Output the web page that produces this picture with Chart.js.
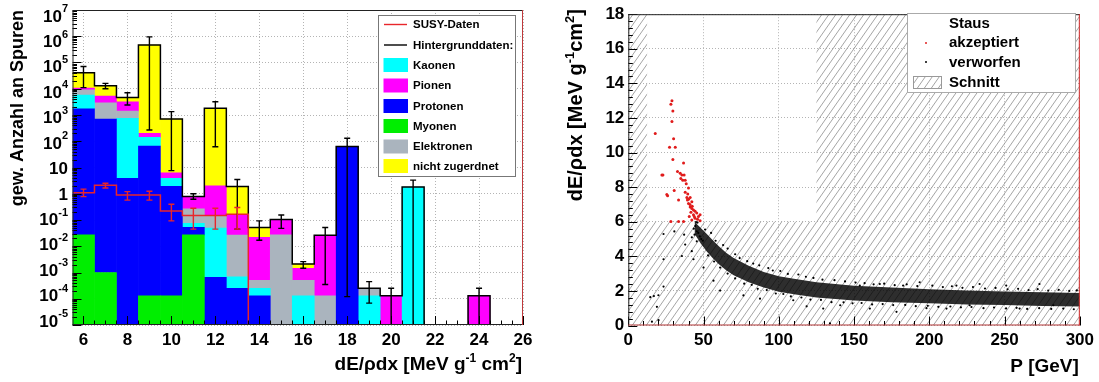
<!DOCTYPE html>
<html>
<head>
<meta charset="utf-8">
<script src="https://cdn.jsdelivr.net/npm/chart.js@4.4.1/dist/chart.umd.min.js"></script>
<style>
  body { margin: 0; background: #fff; width: 1099px; height: 382px; overflow: hidden; position: relative; }
  #left { position: absolute; left: 0; top: 0; }
  #right { position: absolute; left: 545px; top: 0; }
</style>
</head>
<body>
<canvas id="left" width="540" height="382"></canvas>
<canvas id="right" width="554" height="382"></canvas>
<script>
const FONT = '"Liberation Sans", Arial, Helvetica, sans-serif';

// ---- linke Grafik: gewichtete Anzahl an Spuren pro dE/ρdx-Bin (gestapelt) ----
const binCenters = [6, 7, 8, 9, 10, 11, 12, 13, 14, 15, 16, 17, 18, 19, 20, 21, 22, 23, 24, 25];
const myonen          = [0.027, 1e-3, 0, 1.3e-4, 1.3e-4, 0.027, 0, 0, 0, 0, 0, 0, 0, 0, 0, 0, 0, 0, 0, 0];
const protonen        = [1700, 700, 3.9, 66, 1.9, 0.025, 6.5e-4, 2.5e-4, 1.3e-4, 0, 0, 0, 63, 0, 0, 0, 0, 0, 0, 0];
const kaonen          = [4100, 0, 736, 74, 2.0, 0.022, 0.049, 4.4e-4, 1.2e-4, 0, 1.3e-4, 0, 0, 1.3e-4, 0, 1.8, 0, 0, 0, 0];
const elektronen      = [3200, 2200, 660, 0, 0, 0.19, 0.10, 0.026, 2.5e-4, 0.027, 3.7e-4, 1.3e-4, 0, 1.2e-4, 0, 0, 0, 0, 0, 0];
const pionen          = [1500, 2300, 1800, 60, 2.4, 0.46, 1.85, 0.133, 0.0215, 0.078, 9.5e-4, 0.026, 0, 0, 1.3e-4, 0, 0, 0, 1.3e-4, 0];
const nichtZugeordnet = [30500, 7800, 1400, 4.6e5, 694, 0.06, 1800, 1.74, 0.03, 0, 6.5e-4, 0, 0, 0, 0, 0, 0, 0, 0, 0];
// Fehlerbalken der Hintergrunddaten (untere / obere Grenze), null = keiner
const bgErrLo = [1.1e4, 1.0e4, 2.4e3, 270, 7.6, 0.62, 62, 0.045, 0.017, 0.048, 1.45e-3, 3.5e-4, 1.2e-4, 6.8e-5, 1e-6, 1e-6, null, null, 1e-6, null];
const bgErrHi = [7e4, 1.6e4, 7e3, 9.5e5, 1.35e3, 1.0, 3.2e3, 3.5, 0.093, 0.155, 2.6e-3, 0.052, 130, 4.5e-4, 2.5e-4, 3.3, null, null, 2.5e-4, null];
// SUSY-Daten
const susyBins  = [6, 7, 8, 9, 10, 11, 12, 13];
const susyVals  = [1.1, 2.1, 0.9, 0.9, 0.22, 0.15, 0.15, 0.165];
const susyErrLo = [0.78, 1.66, 0.57, 0.57, 0.093, 0.045, 0.045, 0.045];
const susyErrHi = [1.5, 2.5, 1.2, 1.25, 0.4, 0.28, 0.28, 0.3];
const xTicksLeft = [6, 8, 10, 12, 14, 16, 18, 20, 22, 24, 26];
const yDecadesLeft = [-5, -4, -3, -2, -1, 0, 1, 2, 3, 4, 5, 6, 7];

// ---- rechte Grafik: dE/ρdx gegen Impuls ----
const cutP    = [0, 12.5, 12.5, 125, 125, 300];
const cutDedx = [18, 18, 6, 6, 18, 18];
// dichtes Band der verworfenen Spuren (untere / obere Kante)
const bandP  = [44, 48, 52, 56, 60, 65, 70, 80, 90, 100, 110, 125, 150, 175, 200, 225, 250, 275, 300];
const bandLo = [5.3, 4.75, 4.3, 3.9, 3.55, 3.2, 2.9, 2.5, 2.2, 1.95, 1.8, 1.62, 1.45, 1.35, 1.28, 1.22, 1.18, 1.13, 1.1];
const bandHi = [6.0, 5.65, 5.3, 4.95, 4.6, 4.2, 3.9, 3.45, 3.1, 2.85, 2.7, 2.5, 2.3, 2.2, 2.1, 2.03, 1.97, 1.92, 1.88];
const acceptedP    = [29.0, 28.3, 29.6, 29.0, 17.9, 30.1, 27.4, 31.2, 29.6, 36.7, 22.3, 23.0, 32.7, 34.5, 35.6, 37.1, 34.9, 36.2, 37.8, 38.5, 40.0, 30.5, 26.1, 37.8, 38.9, 40.0, 41.1, 39.3, 42.2, 40.0, 33.4, 41.1, 42.2, 43.3, 41.6, 44.4, 43.3, 45.5, 46.6, 44.4, 47.7, 42.2, 28.3, 33.4, 36.7, 47.7, 46.0, 25.6, 41.0, 42.5, 39.5, 40.5, 43.8];
const acceptedDedx = [13.0, 12.8, 12.4, 11.8, 11.1, 10.8, 10.3, 10.3, 9.6, 9.4, 8.7, 8.7, 8.9, 8.8, 8.7, 8.7, 8.5, 8.4, 8.4, 8.2, 7.95, 7.8, 7.5, 7.7, 7.4, 7.3, 7.4, 7.25, 7.15, 7.05, 7.25, 6.85, 6.77, 6.68, 6.55, 6.6, 6.4, 6.5, 6.3, 6.2, 6.4, 6.1, 6.02, 6.02, 6.02, 6.05, 6.15, 7.57, 7.0, 6.9, 7.6, 6.3, 6.3];
const rejectedP    = [23.4, 30.6, 37.1, 37.8, 42.2, 45.5, 42.2, 35.6, 23.4, 43.3, 23.4, 14.6, 19.0, 15.7, 20.1, 56.6, 50.0, 61.0, 76.5, 87.5, 109.6, 118.5, 134.0, 153.8, 167.1, 182.6, 193.6, 218, 233.4, 251.1, 273.2, 129.5, 140.8, 160.5, 178.2, 198.1, 211.4, 226.8, 260, 282.4, 17, 20,
  43.5, 44.5, 45.5, 46.5, 47.5, 44, 46, 48.5, 49.5, 45,
  51, 55, 58, 63, 66, 71, 74, 79, 83, 87, 93, 96, 101, 106, 113, 118, 123, 129, 137, 144, 151, 157, 163, 170, 177, 185, 192, 202, 209, 215, 222, 229, 237, 244, 252, 259, 266, 272, 279, 286, 293, 298,
  53, 57, 61, 66, 71, 77, 82, 86, 92, 98, 103, 108, 115, 121, 128, 135, 143, 149, 155, 162, 169, 176, 184, 191, 199, 206, 214, 221, 228, 236, 243, 251, 258, 265, 273, 281, 289, 296];
const rejectedDedx = [5.29, 5.44, 5.25, 4.68, 5.1, 4.87, 4.30, 4.02, 3.83, 3.83, 2.25, 1.64, 1.08, 0.22, 0.31, 2.59, 3.35, 2.02, 1.74, 1.55, 1.46, 1.11, 0.12, 2.31, 2.4, 2.31, 2.5, 2.31, 2.4, 2.31, 2.4, 0.98, 1.17, 0.98, 0.79, 1.0, 0.98, 1.17, 0.98, 1.17, 1.7, 1.75,
  5.6, 5.75, 5.45, 5.35, 5.15, 5.25, 5.95, 5.0, 4.9, 5.98,
  5.55, 5.35, 4.9, 4.65, 4.45, 4.12, 3.9, 3.72, 3.58, 3.48, 3.32, 3.18, 3.15, 2.98, 2.95, 2.82, 2.75, 2.65, 2.62, 2.55, 2.48, 2.45, 2.38, 2.42, 2.33, 2.38, 2.28, 2.3, 2.22, 2.27, 2.18, 2.22, 2.14, 2.17, 2.09, 2.12, 2.05, 2.1, 2.02, 2.06, 2.0, 2.03,
  4.05, 3.7, 3.35, 3.0, 2.72, 2.42, 2.35, 2.12, 2.05, 1.85, 1.82, 1.68, 1.62, 1.5, 1.48, 1.35, 1.34, 1.28, 1.3, 1.22, 1.24, 1.18, 1.19, 1.12, 1.14, 1.08, 1.1, 1.05, 1.07, 1.0, 1.04, 0.99, 1.02, 0.96, 1.0, 0.96, 0.98, 0.94];

const yMinL = 1e-5, yMaxL = 1e7;

function drawRich(ctx, parts, x, y, align, size, supSize, raise) {
  const fMain = 'bold ' + size + 'px ' + FONT;
  const fSup = 'bold ' + supSize + 'px ' + FONT;
  let w = 0;
  for (const [t, s] of parts) { ctx.font = s ? fSup : fMain; w += ctx.measureText(t).width; }
  let cx = align === 'right' ? x - w : (align === 'center' ? x - w / 2 : x);
  ctx.textAlign = 'left';
  ctx.textBaseline = 'alphabetic';
  for (const [t, s] of parts) {
    ctx.font = s ? fSup : fMain;
    ctx.fillText(t, cx, s ? y - raise : y);
    cx += ctx.measureText(t).width;
  }
}

function errorBar(ctx, px, pLo, pHi) {
  ctx.moveTo(px, pLo); ctx.lineTo(px, pHi);
  ctx.moveTo(px - 3, pHi); ctx.lineTo(px + 3, pHi);
  ctx.moveTo(px - 3, pLo); ctx.lineTo(px + 3, pLo);
}

function frame(ctx, a, rightColor, bottomColor) {
  ctx.lineWidth = 1;
  ctx.strokeStyle = '#222';
  ctx.beginPath();
  ctx.moveTo(a.left + 0.5, a.bottom); ctx.lineTo(a.left + 0.5, a.top + 0.5); ctx.lineTo(a.right, a.top + 0.5);
  ctx.stroke();
  ctx.strokeStyle = bottomColor;
  ctx.beginPath(); ctx.moveTo(a.left, a.bottom - 0.5); ctx.lineTo(a.right, a.bottom - 0.5); ctx.stroke();
  ctx.strokeStyle = rightColor;
  ctx.beginPath(); ctx.moveTo(a.right - 0.5, a.top); ctx.lineTo(a.right - 0.5, a.bottom); ctx.stroke();
}

function stepPoints(centers, vals, floor) {
  const pts = centers.map((c, i) => ({ x: c - 0.5, y: vals[i] > 0 ? vals[i] : floor }));
  pts.push({ x: centers[centers.length - 1] + 0.5, y: floor });
  return pts;
}

const stackSpecies = [
  { label: 'Myonen', values: myonen, color: '#00ee00' },
  { label: 'Protonen', values: protonen, color: '#0000ff' },
  { label: 'Kaonen', values: kaonen, color: '#00ffff' },
  { label: 'Elektronen', values: elektronen, color: '#aab4be' },
  { label: 'Pionen', values: pionen, color: '#ff00ff' },
  { label: 'nicht zugerdnet', values: nichtZugeordnet, color: '#ffff00' }
];
const totals = binCenters.map((_, i) => stackSpecies.reduce((s, sp) => s + sp.values[i], 0));

const outlinePts = stepPoints(binCenters, totals, yMinL);
outlinePts.push({ x: 26, y: yMinL });
const susyPts = stepPoints(susyBins, susyVals, yMinL);
susyPts.push({ x: 26, y: yMinL });

const leftDecor = {
  id: 'leftDecor',
  afterDatasetsDraw(chart) {
    const { ctx, chartArea: a, scales: { x, y } } = chart;
    ctx.save();
    ctx.beginPath(); ctx.rect(a.left, a.top, a.right - a.left, a.bottom - a.top); ctx.clip();
    ctx.lineWidth = 1.4;
    ctx.strokeStyle = '#000';
    ctx.beginPath();
    binCenters.forEach((c, i) => {
      if (bgErrHi[i] == null) return;
      errorBar(ctx, x.getPixelForValue(c), y.getPixelForValue(bgErrLo[i]), y.getPixelForValue(bgErrHi[i]));
    });
    ctx.stroke();
    ctx.strokeStyle = '#e8262b';
    ctx.beginPath();
    susyBins.forEach((c, i) => {
      errorBar(ctx, x.getPixelForValue(c), y.getPixelForValue(susyErrLo[i]), y.getPixelForValue(susyErrHi[i]));
    });
    ctx.stroke();
    ctx.restore();
  },
  afterDraw(chart) {
    const { ctx, chartArea: a, scales: { x, y } } = chart;
    ctx.save();
    // Innere Striche
    ctx.strokeStyle = '#000';
    ctx.lineWidth = 1;
    ctx.beginPath();
    for (let v = 6; v <= 26; v += 0.5) {
      const px = Math.round(x.getPixelForValue(v)) + 0.5;
      const len = v % 2 === 0 ? 9 : 4.5;
      ctx.moveTo(px, a.bottom); ctx.lineTo(px, a.bottom - len);
    }
    for (let k = -5; k <= 7; k++) {
      for (let m = 1; m <= 9; m++) {
        const v = m * Math.pow(10, k);
        if (v > yMaxL) break;
        const py = Math.round(y.getPixelForValue(v)) + 0.5;
        ctx.moveTo(a.left, py); ctx.lineTo(a.left + (m === 1 ? 9 : 4.5), py);
      }
    }
    ctx.stroke();
    frame(ctx, a, '#c0393b', '#222');
    // y-Beschriftung
    ctx.fillStyle = '#000';
    yDecadesLeft.forEach(k => {
      const py = y.getPixelForValue(Math.pow(10, k)) + 5.5 - 0.82 * (7 - k);
      const parts = k === 0 ? [['1', 0]] : (k === 1 ? [['10', 0]] : [['10', 0], [String(k), 1]]);
      drawRich(ctx, parts, 68, py + 6.1, 'right', 17, 11, 9.5);
    });
    // Achsentitel
    drawRich(ctx, [['dE/ρdx [MeV g', 0], ['-1', 1], [' cm', 0], ['2', 1], [']', 0]], 522, 370, 'right', 19, 12, 8);
    ctx.save();
    ctx.translate(23, 10);
    ctx.rotate(-Math.PI / 2);
    drawRich(ctx, [['gew. Anzahl an Spuren', 0]], 0, 0, 'right', 18, 12, 0);
    ctx.restore();
    // Legende
    const lx = 378.5, ly = 15.5, lw = 137, lh = 161;
    ctx.fillStyle = '#fff';
    ctx.fillRect(lx, ly, lw, lh);
    ctx.strokeStyle = '#777';
    ctx.strokeRect(lx, ly, lw, lh);
    const rows = [
      { t: 'SUSY-Daten', kind: 'line', c: '#e8262b', y: 24.5 },
      { t: 'Hintergrunddaten:', kind: 'line', c: '#000', y: 45 },
      { t: 'Kaonen', kind: 'box', c: '#00ffff', y: 65 },
      { t: 'Pionen', kind: 'box', c: '#ff00ff', y: 85.5 },
      { t: 'Protonen', kind: 'box', c: '#0000ff', y: 106 },
      { t: 'Myonen', kind: 'box', c: '#00ee00', y: 126 },
      { t: 'Elektronen', kind: 'box', c: '#aab4be', y: 146.5 },
      { t: 'nicht zugerdnet', kind: 'box', c: '#ffff00', y: 166 }
    ];
    rows.forEach(r => {
      if (r.kind === 'line') {
        ctx.strokeStyle = r.c; ctx.lineWidth = 1.4;
        ctx.beginPath(); ctx.moveTo(384, r.y); ctx.lineTo(407, r.y); ctx.stroke();
      } else {
        ctx.fillStyle = r.c; ctx.fillRect(383.5, r.y - 7, 24.5, 14);
      }
      ctx.fillStyle = '#000';
      ctx.font = 'bold 11.5px ' + FONT;
      ctx.textAlign = 'left'; ctx.textBaseline = 'middle';
      ctx.fillText(r.t, 413, r.y + 0.5);
    });
    ctx.restore();
  }
};

const dotted = { color: '#b4b4b4', lineWidth: 1 };

new Chart(document.getElementById('left'), {
  type: 'bar',
  data: {
    datasets: [
      ...stackSpecies.map(sp => ({
        type: 'bar',
        label: sp.label,
        data: binCenters.map((c, i) => ({ x: c, y: sp.values[i] > 0 ? sp.values[i] : null })),
        backgroundColor: sp.color,
        borderWidth: 0,
        barPercentage: 1,
        categoryPercentage: 1,
        stack: 'bg',
        order: 3
      })),
      {
        type: 'line', label: 'Hintergrunddaten', data: outlinePts, stack: 'outline',
        borderColor: '#000', borderWidth: 1.5, pointRadius: 0, fill: false, stepped: true, order: 2
      },
      {
        type: 'line', label: 'SUSY-Daten', data: susyPts, stack: 'susy',
        borderColor: '#e8262b', borderWidth: 1.5, pointRadius: 0, fill: false, stepped: true, order: 1
      }
    ]
  },
  options: {
    responsive: false,
    animation: false,
    events: [],
    layout: { padding: { left: 0, right: 17, top: 10, bottom: 0 } },
    plugins: { legend: { display: false }, tooltip: { enabled: false } },
    scales: {
      x: {
        type: 'linear', min: 5.5, max: 26, stacked: true, offset: false,
        afterBuildTicks: s => { s.ticks = xTicksLeft.map(v => ({ value: v })); },
        afterFit: s => { s.height = 57; },
        grid: { ...dotted, offset: false, drawTicks: false },
        border: { display: false, dash: [1, 2] },
        ticks: { color: '#000', padding: 5, maxRotation: 0, autoSkip: false, font: { family: FONT, size: 17, weight: 'bold' } }
      },
      y: {
        type: 'logarithmic', min: yMinL, max: yMaxL, stacked: true,
        afterBuildTicks: s => { s.ticks = yDecadesLeft.map(k => ({ value: Math.pow(10, k) })); },
        afterFit: s => { s.width = 72.5; },
        grid: { ...dotted, drawTicks: false },
        border: { display: false, dash: [1, 2] },
        ticks: { display: false }
      }
    }
  },
  plugins: [leftDecor]
});

// ---- rechte Grafik ----
function makeHatch() {
  const w = 7, h = 10;
  const c = document.createElement('canvas');
  c.width = w; c.height = h;
  const g = c.getContext('2d');
  g.strokeStyle = '#9a9a9a';
  g.lineWidth = 0.9;
  g.beginPath();
  g.moveTo(-w, h); g.lineTo(0, 0);
  g.moveTo(w, h); g.lineTo(2 * w, 0);
  g.moveTo(0, h); g.lineTo(w, 0);
  g.stroke();
  return g.createPattern(c, 'repeat');
}
const hatch = makeHatch();
const pts = (xs, ys) => xs.map((v, i) => ({ x: v, y: ys[i] }));

const rightDecor = {
  id: 'rightDecor',
  afterDraw(chart) {
    const { ctx, chartArea: a, scales: { x, y } } = chart;
    ctx.save();
    ctx.strokeStyle = '#000';
    ctx.lineWidth = 1;
    ctx.beginPath();
    for (let v = 0; v <= 300; v += 10) {
      const px = Math.round(x.getPixelForValue(v)) + 0.5;
      ctx.moveTo(px, a.bottom); ctx.lineTo(px, a.bottom - (v % 50 === 0 ? 9 : 4.5));
    }
    for (let i = 0; i <= 45; i++) {
      const v = i * 0.4;
      const py = Math.round(y.getPixelForValue(v)) + 0.5;
      ctx.moveTo(a.left, py); ctx.lineTo(a.left + (i % 5 === 0 ? 9 : 4.5), py);
    }
    ctx.stroke();
    frame(ctx, a, '#d02828', '#b03434');
    ctx.fillStyle = '#000';
    drawRich(ctx, [['P [GeV]', 0]], a.right - 1, 372, 'right', 19, 12, 0);
    ctx.save();
    ctx.translate(37, 9);
    ctx.rotate(-Math.PI / 2);
    drawRich(ctx, [['dE/ρdx [MeV g', 0], ['-1', 1], ['cm', 0], ['2', 1], [']', 0]], 0, 0, 'right', 20, 13, 8.5);
    ctx.restore();
    // Legende
    const lx = 362.5, ly = 13.5, lw = 168, lh = 79;
    ctx.fillStyle = '#fff';
    ctx.fillRect(lx, ly, lw, lh);
    ctx.strokeStyle = '#aaa';
    ctx.strokeRect(lx, ly, lw, lh);
    ctx.font = 'bold 15px ' + FONT;
    ctx.textAlign = 'left'; ctx.textBaseline = 'middle';
    ctx.fillStyle = '#000';
    ctx.fillText('Staus', 404, 23.5);
    ctx.fillText('akzeptiert', 404, 42.5);
    ctx.fillText('verworfen', 404, 62.5);
    ctx.fillText('Schnitt', 404, 82.5);
    ctx.fillStyle = '#e02020';
    ctx.beginPath(); ctx.arc(381, 43, 1, 0, Math.PI * 2); ctx.fill();
    ctx.fillStyle = '#000';
    ctx.beginPath(); ctx.arc(381, 62, 1, 0, Math.PI * 2); ctx.fill();
    ctx.fillStyle = hatch;
    ctx.fillRect(368, 76, 29, 13);
    ctx.strokeStyle = '#999';
    ctx.strokeRect(368.5, 76.5, 28, 12);
    ctx.restore();
  }
};

new Chart(document.getElementById('right'), {
  type: 'scatter',
  data: {
    datasets: [
      {
        type: 'line', label: 'Schnitt', data: pts(cutP, cutDedx), fill: 'start',
        backgroundColor: hatch, borderWidth: 0, pointRadius: 0, order: 10
      },
      {
        type: 'line', label: 'Band oben', data: pts(bandP, bandHi), fill: '+1',
        backgroundColor: 'rgba(0,0,0,0.82)', borderWidth: 0, pointRadius: 0, order: 5
      },
      {
        type: 'line', label: 'Band unten', data: pts(bandP, bandLo), fill: false,
        borderWidth: 0, pointRadius: 0, order: 6
      },
      {
        type: 'scatter', label: 'verworfen', data: pts(rejectedP, rejectedDedx),
        pointRadius: 1.1, pointBackgroundColor: '#000', pointBorderWidth: 0, order: 3
      },
      {
        type: 'scatter', label: 'akzeptiert', data: pts(acceptedP, acceptedDedx),
        pointRadius: 1.5, pointBackgroundColor: '#e01b1b', pointBorderWidth: 0, order: 1
      }
    ]
  },
  options: {
    responsive: false,
    animation: false,
    events: [],
    layout: { padding: { left: 0, right: 18, top: 9.5, bottom: 0 } },
    plugins: { legend: { display: false }, tooltip: { enabled: false } },
    scales: {
      x: {
        type: 'linear', min: 0, max: 300,
        afterFit: s => { s.height = 56.5; },
        grid: { ...dotted, drawTicks: false },
        border: { display: false, dash: [1, 2] },
        ticks: { stepSize: 50, color: '#000', padding: 5, maxRotation: 0, font: { family: FONT, size: 17, weight: 'bold' } }
      },
      y: {
        type: 'linear', min: 0, max: 18,
        afterFit: s => { s.width = 83.3; },
        grid: { ...dotted, drawTicks: false },
        border: { display: false, dash: [1, 2] },
        ticks: { stepSize: 2, color: '#000', padding: 4, font: { family: FONT, size: 17, weight: 'bold' } }
      }
    }
  },
  plugins: [rightDecor]
});
</script>
</body>
</html>
